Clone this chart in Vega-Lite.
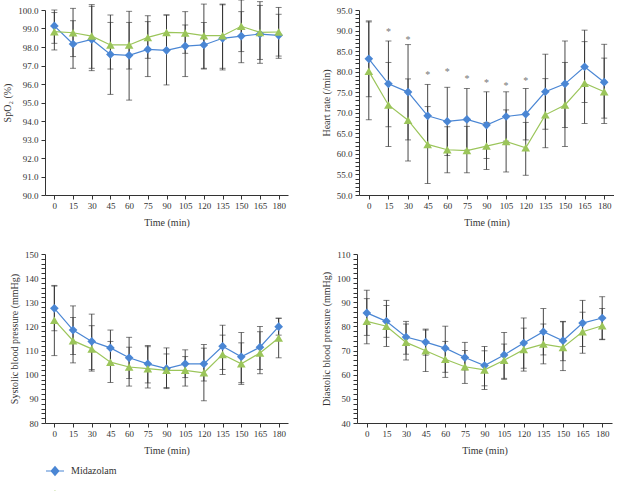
{
  "$schema": "https://vega.github.io/schema/vega-lite/v6.json",
  "padding": {"left": 2, "top": -1, "right": 0, "bottom": 0},
  "background": "white",
  "config": {
    "font": "Liberation Serif",
    "view": {"stroke": null},
    "axis": {"grid": false, "labelFont": "Liberation Serif", "titleFont": "Liberation Serif", "labelFontSize": 9, "titleFontSize": 10, "titleFontWeight": "normal", "domainColor": "#333", "tickColor": "#333", "labelColor": "#333", "titleColor": "#333", "tickSize": 4, "labelPadding": 3, "domainWidth": 1, "tickWidth": 1},
    "axisX": {"titlePadding": 7, "labelAngle": 0, "labelPadding": 2},
    "axisY": {"titlePadding": 5, "labelOverlap": false}
  },
  "datasets": {
    "spo2": [
      {"time": 0, "group": "Midazolam", "mean": 99.14, "lo": 98.20, "hi": 100.0},
      {"time": 15, "group": "Midazolam", "mean": 98.16, "lo": 96.85, "hi": 99.42},
      {"time": 30, "group": "Midazolam", "mean": 98.41, "lo": 96.72, "hi": 100.20},
      {"time": 45, "group": "Midazolam", "mean": 97.60, "lo": 95.44, "hi": 99.73},
      {"time": 60, "group": "Midazolam", "mean": 97.55, "lo": 95.13, "hi": 99.93},
      {"time": 75, "group": "Midazolam", "mean": 97.87, "lo": 96.40, "hi": 99.37},
      {"time": 90, "group": "Midazolam", "mean": 97.82, "lo": 95.95, "hi": 99.73},
      {"time": 105, "group": "Midazolam", "mean": 98.05, "lo": 96.40, "hi": 99.19},
      {"time": 120, "group": "Midazolam", "mean": 98.11, "lo": 96.85, "hi": 99.32},
      {"time": 135, "group": "Midazolam", "mean": 98.47, "lo": 96.76, "hi": 100.28},
      {"time": 150, "group": "Midazolam", "mean": 98.59, "lo": 97.15, "hi": 99.91},
      {"time": 165, "group": "Midazolam", "mean": 98.70, "lo": 97.12, "hi": 100.45},
      {"time": 180, "group": "Midazolam", "mean": 98.63, "lo": 97.51, "hi": 99.77},
      {"time": 0, "group": "Dexmedetomidine", "mean": 98.83, "lo": 97.84, "hi": 99.86},
      {"time": 15, "group": "Dexmedetomidine", "mean": 98.77, "lo": 97.48, "hi": 100.09},
      {"time": 30, "group": "Dexmedetomidine", "mean": 98.59, "lo": 96.85, "hi": 100.29},
      {"time": 45, "group": "Dexmedetomidine", "mean": 98.11, "lo": 96.81, "hi": 99.33},
      {"time": 60, "group": "Dexmedetomidine", "mean": 98.11, "lo": 96.81, "hi": 99.33},
      {"time": 75, "group": "Dexmedetomidine", "mean": 98.52, "lo": 97.39, "hi": 99.69},
      {"time": 90, "group": "Dexmedetomidine", "mean": 98.79, "lo": 97.85, "hi": 99.73},
      {"time": 105, "group": "Dexmedetomidine", "mean": 98.76, "lo": 97.66, "hi": 99.91},
      {"time": 120, "group": "Dexmedetomidine", "mean": 98.61, "lo": 96.81, "hi": 100.32},
      {"time": 135, "group": "Dexmedetomidine", "mean": 98.61, "lo": 96.85, "hi": 100.32},
      {"time": 150, "group": "Dexmedetomidine", "mean": 99.12, "lo": 97.75, "hi": 100.54},
      {"time": 165, "group": "Dexmedetomidine", "mean": 98.79, "lo": 97.33, "hi": 100.25},
      {"time": 180, "group": "Dexmedetomidine", "mean": 98.81, "lo": 97.39, "hi": 100.14}
    ],
    "hr": [
      {"time": 0, "group": "Midazolam", "mean": 83.13, "lo": 73.9, "hi": 92.35},
      {"time": 15, "group": "Midazolam", "mean": 77.04, "lo": 66.6, "hi": 87.46},
      {"time": 30, "group": "Midazolam", "mean": 75.03, "lo": 63.4, "hi": 86.58},
      {"time": 45, "group": "Midazolam", "mean": 69.26, "lo": 61.6, "hi": 76.9},
      {"time": 60, "group": "Midazolam", "mean": 67.89, "lo": 59.6, "hi": 76.2},
      {"time": 75, "group": "Midazolam", "mean": 68.38, "lo": 60.9, "hi": 75.9},
      {"time": 90, "group": "Midazolam", "mean": 67.01, "lo": 58.9, "hi": 75.1},
      {"time": 105, "group": "Midazolam", "mean": 69.10, "lo": 63.1, "hi": 75.1},
      {"time": 120, "group": "Midazolam", "mean": 69.66, "lo": 63.4, "hi": 75.9},
      {"time": 135, "group": "Midazolam", "mean": 75.11, "lo": 66.0, "hi": 84.25},
      {"time": 150, "group": "Midazolam", "mean": 77.04, "lo": 66.4, "hi": 87.46},
      {"time": 165, "group": "Midazolam", "mean": 81.2, "lo": 72.5, "hi": 90.1},
      {"time": 180, "group": "Midazolam", "mean": 77.44, "lo": 67.4, "hi": 86.66},
      {"time": 0, "group": "Dexmedetomidine", "mean": 80.08, "lo": 68.3, "hi": 92.1},
      {"time": 15, "group": "Dexmedetomidine", "mean": 71.9, "lo": 61.8, "hi": 82.25},
      {"time": 30, "group": "Dexmedetomidine", "mean": 68.2, "lo": 58.27, "hi": 78.24},
      {"time": 45, "group": "Dexmedetomidine", "mean": 62.3, "lo": 52.8, "hi": 71.5},
      {"time": 60, "group": "Dexmedetomidine", "mean": 61.0, "lo": 55.4, "hi": 66.6},
      {"time": 75, "group": "Dexmedetomidine", "mean": 60.8, "lo": 55.4, "hi": 66.7},
      {"time": 90, "group": "Dexmedetomidine", "mean": 61.9, "lo": 56.2, "hi": 67.66},
      {"time": 105, "group": "Dexmedetomidine", "mean": 63.0, "lo": 55.6, "hi": 70.7},
      {"time": 120, "group": "Dexmedetomidine", "mean": 61.5, "lo": 54.8, "hi": 67.66},
      {"time": 135, "group": "Dexmedetomidine", "mean": 69.5, "lo": 61.5, "hi": 78.3},
      {"time": 150, "group": "Dexmedetomidine", "mean": 71.9, "lo": 61.8, "hi": 82.25},
      {"time": 165, "group": "Dexmedetomidine", "mean": 77.2, "lo": 67.4, "hi": 87.3},
      {"time": 180, "group": "Dexmedetomidine", "mean": 75.1, "lo": 68.7, "hi": 83.3}
    ],
    "stars": [
      {"time": 15, "y": 90.3},
      {"time": 30, "y": 88.4},
      {"time": 45, "y": 79.9},
      {"time": 60, "y": 80.6},
      {"time": 75, "y": 78.9},
      {"time": 90, "y": 77.9},
      {"time": 105, "y": 77.3},
      {"time": 120, "y": 78.5}
    ],
    "sbp": [
      {"time": 0, "group": "Midazolam", "mean": 127.5, "lo": 118.2, "hi": 137.0},
      {"time": 15, "group": "Midazolam", "mean": 118.5, "lo": 108.4, "hi": 128.5},
      {"time": 30, "group": "Midazolam", "mean": 113.8, "lo": 102.1, "hi": 125.1},
      {"time": 45, "group": "Midazolam", "mean": 111.1, "lo": 103.8, "hi": 118.5},
      {"time": 60, "group": "Midazolam", "mean": 107.0, "lo": 98.4, "hi": 115.5},
      {"time": 75, "group": "Midazolam", "mean": 104.5, "lo": 96.6, "hi": 112.1},
      {"time": 90, "group": "Midazolam", "mean": 102.5, "lo": 94.25, "hi": 111.1},
      {"time": 105, "group": "Midazolam", "mean": 104.5, "lo": 98.8, "hi": 110.3},
      {"time": 120, "group": "Midazolam", "mean": 104.5, "lo": 97.4, "hi": 112.5},
      {"time": 135, "group": "Midazolam", "mean": 111.8, "lo": 102.2, "hi": 120.5},
      {"time": 150, "group": "Midazolam", "mean": 107.4, "lo": 96.7, "hi": 117.5},
      {"time": 165, "group": "Midazolam", "mean": 111.4, "lo": 102.2, "hi": 120.0},
      {"time": 180, "group": "Midazolam", "mean": 119.9, "lo": 116.4, "hi": 123.4},
      {"time": 0, "group": "Dexmedetomidine", "mean": 122.6, "lo": 107.9, "hi": 136.7},
      {"time": 15, "group": "Dexmedetomidine", "mean": 114.1, "lo": 104.9, "hi": 123.7},
      {"time": 30, "group": "Dexmedetomidine", "mean": 110.7, "lo": 101.5, "hi": 120.3},
      {"time": 45, "group": "Dexmedetomidine", "mean": 105.2, "lo": 96.8, "hi": 113.8},
      {"time": 60, "group": "Dexmedetomidine", "mean": 103.2, "lo": 95.3, "hi": 111.4},
      {"time": 75, "group": "Dexmedetomidine", "mean": 102.5, "lo": 94.5, "hi": 111.6},
      {"time": 90, "group": "Dexmedetomidine", "mean": 101.8, "lo": 94.7, "hi": 108.6},
      {"time": 105, "group": "Dexmedetomidine", "mean": 101.8, "lo": 95.3, "hi": 107.5},
      {"time": 120, "group": "Dexmedetomidine", "mean": 100.8, "lo": 89.2, "hi": 111.0},
      {"time": 135, "group": "Dexmedetomidine", "mean": 108.4, "lo": 100.1, "hi": 116.4},
      {"time": 150, "group": "Dexmedetomidine", "mean": 104.5, "lo": 96.0, "hi": 113.2},
      {"time": 165, "group": "Dexmedetomidine", "mean": 109.0, "lo": 100.4, "hi": 117.8},
      {"time": 180, "group": "Dexmedetomidine", "mean": 115.2, "lo": 107.0, "hi": 123.4}
    ],
    "dbp": [
      {"time": 0, "group": "Midazolam", "mean": 85.6, "lo": 76.3, "hi": 95.0},
      {"time": 15, "group": "Midazolam", "mean": 82.1, "lo": 75.5, "hi": 90.8},
      {"time": 30, "group": "Midazolam", "mean": 75.6, "lo": 68.5, "hi": 82.1},
      {"time": 45, "group": "Midazolam", "mean": 73.5, "lo": 68.1, "hi": 78.9},
      {"time": 60, "group": "Midazolam", "mean": 71.0, "lo": 61.0, "hi": 80.1},
      {"time": 75, "group": "Midazolam", "mean": 67.1, "lo": 62.0, "hi": 73.4},
      {"time": 90, "group": "Midazolam", "mean": 63.8, "lo": 55.4, "hi": 71.7},
      {"time": 105, "group": "Midazolam", "mean": 68.2, "lo": 58.1, "hi": 77.5},
      {"time": 120, "group": "Midazolam", "mean": 73.1, "lo": 62.7, "hi": 83.5},
      {"time": 135, "group": "Midazolam", "mean": 77.8, "lo": 68.2, "hi": 87.4},
      {"time": 150, "group": "Midazolam", "mean": 74.1, "lo": 65.8, "hi": 82.1},
      {"time": 165, "group": "Midazolam", "mean": 81.4, "lo": 71.7, "hi": 90.8},
      {"time": 180, "group": "Midazolam", "mean": 83.5, "lo": 74.7, "hi": 92.3},
      {"time": 0, "group": "Dexmedetomidine", "mean": 82.1, "lo": 72.8, "hi": 91.5},
      {"time": 15, "group": "Dexmedetomidine", "mean": 80.1, "lo": 71.7, "hi": 88.7},
      {"time": 30, "group": "Dexmedetomidine", "mean": 73.4, "lo": 66.1, "hi": 81.0},
      {"time": 45, "group": "Dexmedetomidine", "mean": 69.9, "lo": 61.3, "hi": 78.5},
      {"time": 60, "group": "Dexmedetomidine", "mean": 66.4, "lo": 58.9, "hi": 73.8},
      {"time": 75, "group": "Dexmedetomidine", "mean": 63.3, "lo": 56.4, "hi": 70.0},
      {"time": 90, "group": "Dexmedetomidine", "mean": 62.0, "lo": 53.9, "hi": 69.9},
      {"time": 105, "group": "Dexmedetomidine", "mean": 66.0, "lo": 58.5, "hi": 72.7},
      {"time": 120, "group": "Dexmedetomidine", "mean": 70.4, "lo": 61.5, "hi": 79.3},
      {"time": 135, "group": "Dexmedetomidine", "mean": 72.7, "lo": 64.5, "hi": 81.0},
      {"time": 150, "group": "Dexmedetomidine", "mean": 71.3, "lo": 61.7, "hi": 81.9},
      {"time": 165, "group": "Dexmedetomidine", "mean": 77.8, "lo": 68.9, "hi": 85.9},
      {"time": 180, "group": "Dexmedetomidine", "mean": 80.3, "lo": 74.5, "hi": 87.4}
    ]
  },
  "resolve": {"legend": {"color": "independent", "shape": "independent"}},
  "spacing": 23,
  "vconcat": [
    {
      "resolve": {"legend": {"color": "independent", "shape": "independent"}},
      "spacing": 33,
      "hconcat": [
        {
          "width": 243, "height": 185,
          "data": {"name": "spo2"},
          "encoding": {
            "x": {"field": "time", "type": "ordinal", "scale": {"type": "point", "padding": 0.5}, "axis": {"title": "Time (min)"}},
            "color": {"field": "group", "type": "nominal", "scale": {"domain": ["Midazolam", "Dexmedetomidine"], "range": ["#4a86d4", "#9bc55a"]}, "legend": null}
          },
          "layer": [
            {"mark": {"type": "errorbar", "ticks": {"size": 6}, "thickness": 0.9},
             "encoding": {"y": {"field": "lo", "type": "quantitative", "title": "SpO₂ (%)", "scale": {"domain": [90, 100], "nice": false, "zero": false}, "axis": {"values": [90, 91, 92, 93, 94, 95, 96, 97, 98, 99, 100], "tickCount": 200, "format": ".1f", "labelOverlap": false}}, "y2": {"field": "hi"}, "color": {"value": "#333"}}},
            {"mark": {"type": "line", "strokeWidth": 1.2}, "encoding": {"y": {"field": "mean", "type": "quantitative", "title": "SpO₂ (%)"}}},
            {"mark": {"type": "point", "filled": true, "opacity": 1, "size": 75}, "encoding": {"y": {"field": "mean", "type": "quantitative", "title": "SpO₂ (%)"}, "shape": {"field": "group", "type": "nominal", "scale": {"domain": ["Midazolam", "Dexmedetomidine"], "range": ["diamond", "triangle-up"]}, "legend": null}}}
          ]
        },
        {
          "width": 255, "height": 185,
          "encoding": {
            "x": {"field": "time", "type": "ordinal", "scale": {"type": "point", "padding": 0.5}, "axis": {"title": "Time (min)"}},
            "color": {"field": "group", "type": "nominal", "scale": {"domain": ["Midazolam", "Dexmedetomidine"], "range": ["#4a86d4", "#9bc55a"]}, "legend": null}
          },
          "layer": [
            {"data": {"name": "hr"}, "mark": {"type": "errorbar", "ticks": {"size": 6}, "thickness": 0.9},
             "encoding": {"y": {"field": "lo", "type": "quantitative", "title": "Heart rate (/min)", "scale": {"domain": [50, 95], "nice": false, "zero": false},
               "axis": {"values": [50,51,52,53,54,55,56,57,58,59,60,61,62,63,64,65,66,67,68,69,70,71,72,73,74,75,76,77,78,79,80,81,82,83,84,85,86,87,88,89,90,91,92,93,94,95],
                 "tickCount": 200,
                 "labelOverlap": false,
                 "labelExpr": "datum.value % 5 === 0 ? format(datum.value, '.1f') : ''",
                 "encode": {"ticks": {"x2": {"value": {"expr": "datum.value % 5 === 0 ? -4 : -2"}}}}}},
               "y2": {"field": "hi"}, "color": {"value": "#333"}}},
            {"data": {"name": "hr"}, "mark": {"type": "line", "strokeWidth": 1.2}, "encoding": {"y": {"field": "mean", "type": "quantitative", "title": "Heart rate (/min)"}}},
            {"data": {"name": "hr"}, "mark": {"type": "point", "filled": true, "opacity": 1, "size": 75}, "encoding": {"y": {"field": "mean", "type": "quantitative", "title": "Heart rate (/min)"}, "shape": {"field": "group", "type": "nominal", "scale": {"domain": ["Midazolam", "Dexmedetomidine"], "range": ["diamond", "triangle-up"]}, "legend": null}}},
            {"data": {"name": "stars"}, "mark": {"type": "text", "text": "*", "fontSize": 10, "baseline": "middle", "dy": 3, "font": "Liberation Serif"}, "encoding": {"y": {"field": "y", "type": "quantitative", "title": "Heart rate (/min)"}, "color": {"value": "#777"}}}
          ]
        }
      ]
    },
    {
      "resolve": {"legend": {"color": "independent", "shape": "independent"}},
      "spacing": 33,
      "hconcat": [
        {
          "width": 243, "height": 169,
          "data": {"name": "sbp"},
          "encoding": {
            "x": {"field": "time", "type": "ordinal", "scale": {"type": "point", "padding": 0.5}, "axis": {"title": "Time (min)"}},
            "color": {"field": "group", "type": "nominal", "scale": {"domain": ["Midazolam", "Dexmedetomidine"], "range": ["#4a86d4", "#9bc55a"]},
              "legend": {"orient": "none", "legendX": 0, "legendY": 207, "title": null, "direction": "vertical", "labelFont": "Liberation Serif", "labelFontSize": 10, "labelColor": "#333", "symbolSize": 324, "rowPadding": 7, "labelOffset": 6, "symbolStrokeWidth": 1.2,
                "encode": {"symbols": {"update": {
                  "shape": {"signal": "datum.value === 'Midazolam' ? 'M-1,0H1M0,-0.47L0.42,0L0,0.47L-0.42,0Z' : 'M-1,0H1M0,-0.42L0.5,0.38L-0.5,0.38Z'"},
                  "fill": {"signal": "datum.value === 'Midazolam' ? '#4a86d4' : '#9bc55a'"},
                  "stroke": {"signal": "datum.value === 'Midazolam' ? '#4a86d4' : '#9bc55a'"},
                  "opacity": {"value": 1}}}}}}
          },
          "layer": [
            {"mark": {"type": "errorbar", "ticks": {"size": 6}, "thickness": 0.9},
             "encoding": {"y": {"field": "lo", "type": "quantitative", "title": "Systolic blood pressure (mmHg)", "scale": {"domain": [80, 150], "nice": false, "zero": false},
               "axis": {"values": [80,82,84,86,88,90,92,94,96,98,100,102,104,106,108,110,112,114,116,118,120,122,124,126,128,130,132,134,136,138,140,142,144,146,148,150],
                 "tickCount": 200,
                 "labelOverlap": false,
                 "labelExpr": "datum.value % 10 === 0 ? format(datum.value, 'd') : ''",
                 "encode": {"ticks": {"x2": {"value": {"expr": "datum.value % 10 === 0 ? -4 : -2"}}}}}},
               "y2": {"field": "hi"}, "color": {"value": "#333"}}},
            {"mark": {"type": "line", "strokeWidth": 1.2}, "encoding": {"y": {"field": "mean", "type": "quantitative", "title": "Systolic blood pressure (mmHg)"}}},
            {"transform": [{"filter": "datum.group === 'Midazolam'"}], "mark": {"type": "point", "filled": true, "opacity": 1, "size": 75, "shape": "diamond"}, "encoding": {"y": {"field": "mean", "type": "quantitative", "title": "Systolic blood pressure (mmHg)"}}},
            {"transform": [{"filter": "datum.group === 'Dexmedetomidine'"}], "mark": {"type": "point", "filled": true, "opacity": 1, "size": 75, "shape": "triangle-up"}, "encoding": {"y": {"field": "mean", "type": "quantitative", "title": "Systolic blood pressure (mmHg)"}}}
          ]
        },
        {
          "width": 255, "height": 169,
          "data": {"name": "dbp"},
          "encoding": {
            "x": {"field": "time", "type": "ordinal", "scale": {"type": "point", "padding": 0.5}, "axis": {"title": "Time (min)"}},
            "color": {"field": "group", "type": "nominal", "scale": {"domain": ["Midazolam", "Dexmedetomidine"], "range": ["#4a86d4", "#9bc55a"]}, "legend": null}
          },
          "layer": [
            {"mark": {"type": "errorbar", "ticks": {"size": 6}, "thickness": 0.9},
             "encoding": {"y": {"field": "lo", "type": "quantitative", "title": "Diastolic blood pressure (mmHg)", "scale": {"domain": [40, 110], "nice": false, "zero": false},
               "axis": {"values": [40,42,44,46,48,50,52,54,56,58,60,62,64,66,68,70,72,74,76,78,80,82,84,86,88,90,92,94,96,98,100,102,104,106,108,110],
                 "tickCount": 200,
                 "labelOverlap": false,
                 "labelExpr": "datum.value % 10 === 0 ? format(datum.value, 'd') : ''",
                 "encode": {"ticks": {"x2": {"value": {"expr": "datum.value % 10 === 0 ? -4 : -2"}}}}}},
               "y2": {"field": "hi"}, "color": {"value": "#333"}}},
            {"mark": {"type": "line", "strokeWidth": 1.2}, "encoding": {"y": {"field": "mean", "type": "quantitative", "title": "Diastolic blood pressure (mmHg)"}}},
            {"mark": {"type": "point", "filled": true, "opacity": 1, "size": 75}, "encoding": {"y": {"field": "mean", "type": "quantitative", "title": "Diastolic blood pressure (mmHg)"}, "shape": {"field": "group", "type": "nominal", "scale": {"domain": ["Midazolam", "Dexmedetomidine"], "range": ["diamond", "triangle-up"]}, "legend": null}}}
          ]
        }
      ]
    }
  ]
}
